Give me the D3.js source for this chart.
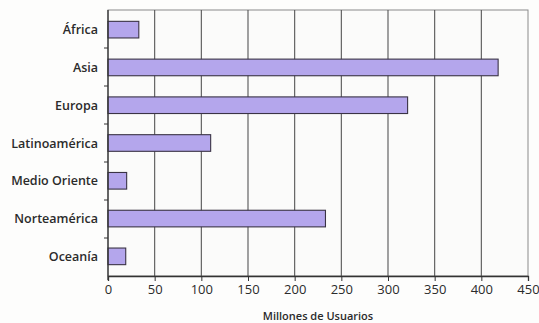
<!DOCTYPE html>
<html>
<head>
<meta charset="utf-8">
<script src="https://cdn.jsdelivr.net/npm/d3@7"></script>
<style>
  html, body { margin: 0; padding: 0; background: #fdfdfc; }
  svg { display: block; }
</style>
</head>
<body>
<svg id="chart" width="539" height="323"></svg>
<script>
// Internet users by region (millions)
const regions = ["África", "Asia", "Europa", "Latinoamérica", "Medio Oriente", "Norteamérica", "Oceanía"];
const users = [33, 418, 321, 110, 20, 233, 19];
const xTicks = [0, 50, 100, 150, 200, 250, 300, 350, 400, 450];
const xTitle = "Millones de Usuarios";

const svg = d3.select("#chart");
const margin = { left: 108, right: 11, top: 10, bottom: 47 };
const W = 539, H = 323;
const innerW = W - margin.left - margin.right;
const innerH = H - margin.top - margin.bottom;

const x = d3.scaleLinear().domain([0, 450]).range([0, innerW]);
const y = d3.scaleBand().domain(regions).range([0, innerH]).paddingInner(0.56).paddingOuter(0.3);

const g = svg.append("g").attr("transform", `translate(${margin.left},${margin.top})`);

// plot frame
g.append("rect").attr("x", 0).attr("y", 0).attr("width", innerW).attr("height", innerH)
  .attr("fill", "#fbfbfa").attr("stroke", "#8a8a8a").attr("stroke-width", 1);

// vertical gridlines
g.selectAll("line.grid").data(xTicks.slice(1, -1)).join("line")
  .attr("class", "grid")
  .attr("x1", d => x(d)).attr("x2", d => x(d))
  .attr("y1", 0).attr("y2", innerH)
  .attr("stroke", "#555").attr("stroke-width", 1.1);

// bars
g.selectAll("rect.bar").data(regions).join("rect")
  .attr("class", "bar")
  .attr("x", 0)
  .attr("y", d => y(d))
  .attr("width", (d, i) => x(users[i]))
  .attr("height", y.bandwidth())
  .attr("fill", "#b4a6ec")
  .attr("stroke", "#3a3345").attr("stroke-width", 1.1);

// category boundary ticks on the left axis
const boundaries = d3.range(1, regions.length).map(i => i * innerH / regions.length);
g.selectAll("line.ytick").data(boundaries).join("line")
  .attr("x1", -4).attr("x2", 0).attr("y1", d => d).attr("y2", d => d)
  .attr("stroke", "#333");
g.append("line").attr("x1", 0).attr("x2", 0).attr("y1", 0).attr("y2", innerH + 4)
  .attr("stroke", "#333").attr("stroke-width", 1.3);

// category labels
g.selectAll("text.ylab").data(regions).join("text")
  .attr("x", -10)
  .attr("y", d => y(d) + y.bandwidth() / 2)
  .attr("dy", "0.36em")
  .attr("text-anchor", "end")
  .attr("font-family", "Open Sans, sans-serif")
  .attr("font-weight", 600)
  .attr("font-size", 12.5)
  .attr("fill", "#2b2b2b")
  .text(d => d);

// bottom axis
const xAxis = d3.axisBottom(x).tickValues(xTicks).tickSize(5).tickPadding(4);
const ax = g.append("g").attr("transform", `translate(0,${innerH})`).call(xAxis);
ax.select(".domain").attr("stroke", "#333").attr("stroke-width", 1.3);
ax.selectAll(".tick line").attr("stroke", "#333");
ax.selectAll("text")
  .attr("font-family", "Open Sans, sans-serif")
  .attr("font-size", 13)
  .attr("fill", "#2b2b2b");

// axis title
svg.append("text")
  .attr("x", 318).attr("y", 320)
  .attr("text-anchor", "middle")
  .attr("font-family", "Open Sans, sans-serif")
  .attr("font-weight", 600)
  .attr("font-size", 11)
  .attr("fill", "#2b2b2b")
  .text(xTitle);
</script>
</body>
</html>
